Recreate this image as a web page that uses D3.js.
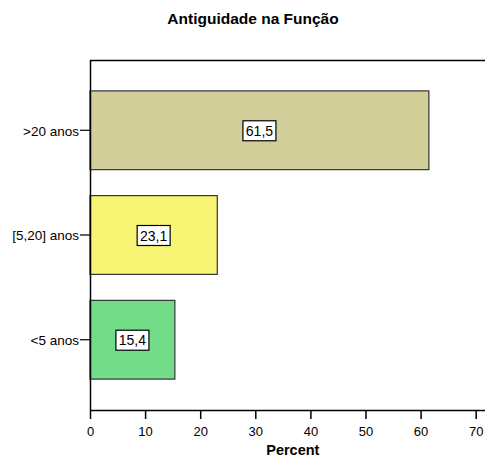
<!DOCTYPE html>
<html><head><meta charset="utf-8">
<script src="https://cdn.jsdelivr.net/npm/d3@7"></script>
<style>body{margin:0;background:#fff}svg{display:block;font-family:"Liberation Sans",Arial,sans-serif}</style>
</head><body><svg id="c" width="485" height="457"></svg>
<script>
const categories = [">20 anos", "[5,20] anos", "<5 anos"];
const values = [61.5, 23.1, 15.4];
const labels = ["61,5", "23,1", "15,4"];
const colors = ["#d3cf9a", "#f9f574", "#72dc88"];
const xTicks = [0, 10, 20, 30, 40, 50, 60, 70];

const svg = d3.select("#c");
const pL = 90, pT = 60, pR = 485, pB = 410;
const x = d3.scaleLinear().domain([0, 70]).range([pL, 475.7]);
const y = d3.scaleBand().domain(categories).range([pT, pB]).paddingInner(0.248).paddingOuter(0.295);

svg.append("text").attr("x", 253).attr("y", 24).attr("text-anchor", "middle")
  .attr("font-weight", "bold").attr("font-size", 15.5).text("Antiguidade na Função");

svg.append("line").attr("x1", pL).attr("x2", pR).attr("y1", pT + 0.5).attr("y2", pT + 0.5)
  .attr("stroke", "#000").attr("stroke-width", 1.5);

svg.selectAll("rect.bar").data(values).join("rect").attr("class", "bar")
  .attr("x", x(0)).attr("y", (d, i) => y(categories[i]))
  .attr("width", d => x(d) - x(0)).attr("height", y.bandwidth())
  .attr("fill", (d, i) => colors[i]).attr("stroke", "#333").attr("stroke-width", 1.2);

const g = svg.selectAll("g.lab").data(values).join("g").attr("class", "lab")
  .attr("transform", (d, i) => `translate(${(x(0) + x(d)) / 2},${y(categories[i]) + y.bandwidth() / 2 + 0.5})`);
g.append("rect").attr("x", -16.5).attr("y", -10).attr("width", 33).attr("height", 20)
  .attr("fill", "#fff").attr("stroke", "#000").attr("stroke-width", 1.2);
g.append("text").attr("text-anchor", "middle").attr("dy", "0.36em").attr("font-size", 14)
  .text((d, i) => labels[i]);

const xa = svg.append("g").attr("transform", `translate(0,${pB})`)
  .call(d3.axisBottom(x).tickValues(xTicks).tickSize(9).tickSizeOuter(0).tickFormat(d3.format("d")));
xa.select(".domain").attr("d", `M${pL},0.5H${pR}`).attr("stroke-width", 1.5);
xa.selectAll("text").attr("font-size", 13).attr("font-family", "Liberation Sans, Arial, sans-serif")
  .attr("fill", "#000").attr("y", 26).attr("dy", 0);
xa.selectAll("line").attr("stroke-width", 1.5);

const ya = svg.append("g").attr("transform", `translate(${pL},0)`)
  .call(d3.axisLeft(y).tickSize(10).tickSizeOuter(0).tickPadding(1));
ya.select(".domain").attr("d", `M0.5,${pT}V${pB}`).attr("stroke-width", 1.5);
ya.selectAll("text").attr("font-size", 13.5).attr("font-family", "Liberation Sans, Arial, sans-serif")
  .attr("fill", "#000").attr("dy", "0.4em");
ya.selectAll("line").attr("stroke-width", 1.2);

svg.append("text").attr("x", x(35) + 10).attr("y", 455).attr("text-anchor", "middle")
  .attr("font-weight", "bold").attr("font-size", 14.5).text("Percent");
</script></body></html>
